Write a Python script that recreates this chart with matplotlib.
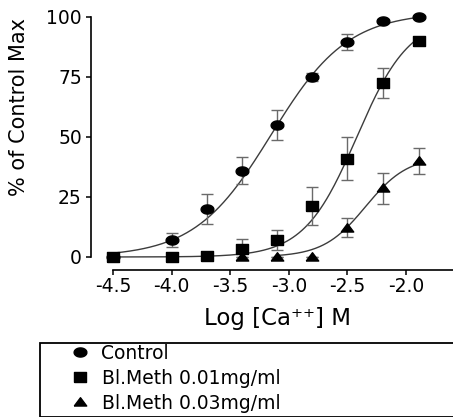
import numpy as np
import matplotlib
matplotlib.use("Agg")
import matplotlib.pyplot as plt
from matplotlib.patches import Rectangle

plt.rcParams['font.family'] = ['DejaVu Sans']
plt.rcParams['axes.unicode_minus'] = False

# log [Ca++] concentrations
log_ca = [-4.5, -4.0, -3.7, -3.4, -3.1, -2.8, -2.5, -2.2, -1.89]
log_ca_tri = [-3.4, -3.1, -2.8, -2.5, -2.2, -1.89]

control = [0, 7, 20, 36, 55, 75, 89.5, 98.5, 100]
control_err = [0, 2.8, 6.3, 5.5, 6.3, 1.7, 3.4, 0.8, 0]

meth_01 = [0, 0, 0.5, 3.2, 7.1, 21.3, 41, 72.6, 89.8]
meth_01_err = [0, 0, 0, 4.2, 4.2, 8, 9, 6.3, 0]

meth_03 = [0, 0, 0, 12.2, 28.6, 40]
meth_03_err = [0, 0, 0, 4, 6.5, 5.5]

labels = ['Control', 'Bl.Meth 0.01mg/ml', 'Bl.Meth 0.03mg/ml']

# sigmoid fit parameters (top, logEC50, hill slope, start of fitted range)
fits = [(102, -3.15, 1.33, -4.5), (100, -2.42, 1.93, -4.5), (42, -2.345, 2.4, -3.1)]

# wide markers (the original image is stretched horizontally)
t = np.linspace(0, 2 * np.pi, 41)
m_circle = list(zip(1.4 * np.cos(t), np.sin(t)))
m_square = [(-1.3, -1), (1.3, -1), (1.3, 1), (-1.3, 1), (-1.3, -1)]
m_tri = [(-1.5, -0.85), (1.5, -0.85), (0, 1.15), (-1.5, -0.85)]

W, H = 453, 417
fig = plt.figure(figsize=(W / 100, H / 100), dpi=100)
ax = fig.add_axes([91 / W, 1 - 270 / H, 362 / W, 262 / H])

curve_col = '#3c3c3c'
err_col = '#6a6a6a'
series = [
    (log_ca, control, control_err, m_circle, 9.2),
    (log_ca, meth_01, meth_01_err, m_square, 9.0),
    (log_ca_tri, meth_03, meth_03_err, m_tri, 9.0),
]
handles = []
for i, (x, y, e, mk, ms) in enumerate(series):
    top, ec50, hill, x0 = fits[i]
    xs = np.linspace(x0, x[-1], 200)
    ax.plot(xs, top / (1 + 10 ** ((ec50 - xs) * hill)), color=curve_col, lw=1, zorder=2)
    ax.errorbar(x, y, yerr=e, fmt='none', ecolor=err_col, elinewidth=1,
                capsize=4.6, capthick=1, zorder=3, clip_on=False)
    h, = ax.plot(x, y, ls='none', marker=mk, ms=ms, color='black',
                 label=labels[i], zorder=4 + (i == 1), clip_on=False)
    handles.append(h)

ax.set_xlim(-4.688, -1.599)
ax.set_ylim(-5.42, 103.75)
ax.set_xticks([-4.5, -4.0, -3.5, -3.0, -2.5, -2.0])
ax.set_xticklabels(['-4.5', '-4.0', '-3.5', '-3.0', '-2.5', '-2.0'])
ax.set_yticks([0, 25, 50, 75, 100])

for s in ['top', 'right']:
    ax.spines[s].set_visible(False)
ax.spines['left'].set_bounds(0, 100)
ax.spines['bottom'].set_bounds(-4.5, -1.599)
for s in ['left', 'bottom']:
    ax.spines[s].set_linewidth(1.2)
ax.tick_params(axis='both', direction='out', length=3.6, width=1.1, labelsize=13.5)
ax.tick_params(axis='y', pad=3)
ax.tick_params(axis='x', pad=1.5)

fig.text(278 / W, 1 - 325 / H, 'Log [Ca\u207a\u207a] M', ha='center', va='baseline', fontsize=16.5)
fig.text(19 / W, 1 - 107.5 / H, '% of Control Max', rotation=90,
         ha='center', va='center', fontsize=15)

# legend box runs off the right edge, as in the original
fig.add_artist(Rectangle((40 / W, 0.5 / H), 430 / W, 74 / H, transform=fig.transFigure,
                         fill=False, edgecolor='black', lw=1.3))
fig.legend(handles, labels, loc='upper left', bbox_to_anchor=(64 / W, 1 - 344 / H),
           frameon=False, borderpad=0, borderaxespad=0, handlelength=1.7,
           handletextpad=0.3, labelspacing=0.31, fontsize=13.5)

fig.savefig('out.png', dpi=100)
